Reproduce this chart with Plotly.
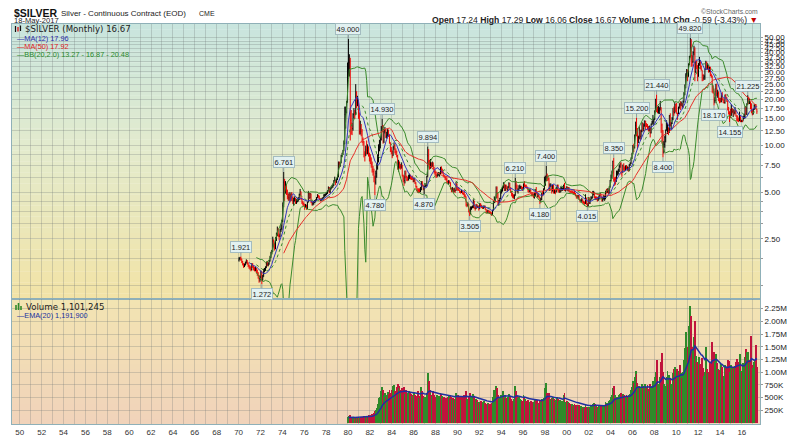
import math
import pandas as pd
import plotly.graph_objects as go
from plotly.subplots import make_subplots

# ---------------- data (monthly, Jan 1970 .. May 2017) ----------------
START_YEAR = 1970
first_open = 1.82

close = [
1.86,1.88,1.85,1.78,1.72,1.66,1.70,1.75,1.80,1.74,1.68,1.64,
1.62,1.58,1.70,1.66,1.62,1.58,1.60,1.55,1.50,1.45,1.38,1.39,
1.52,1.35,1.42,1.55,1.58,1.62,1.75,1.70,1.72,1.80,1.90,2.02,
2.08,2.42,2.30,2.18,2.48,2.66,2.88,2.62,2.60,2.86,2.92,3.28,
4.10,5.80,5.30,5.50,5.10,4.70,4.60,4.80,4.50,4.85,4.60,4.40,
4.45,4.55,4.28,4.40,4.50,4.52,4.82,5.05,4.55,4.30,4.22,4.18,
4.02,4.10,3.92,4.30,4.88,4.60,4.88,4.30,4.20,4.25,4.32,4.36,
4.42,4.60,4.76,4.70,4.55,4.42,4.48,4.50,4.62,4.78,4.80,4.84,
4.92,5.10,5.35,5.05,5.28,5.38,5.50,5.55,5.85,5.95,5.80,6.05,
6.30,7.60,7.45,7.70,8.55,8.70,9.30,10.30,15.90,16.50,19.00,28.00,
34.50,35.20,14.60,14.00,12.90,15.90,16.20,15.90,20.90,19.00,19.60,15.50,
12.30,12.80,12.40,11.00,10.60,8.80,8.60,9.40,9.30,9.60,8.80,8.30,
8.10,7.60,7.00,6.80,6.20,5.80,6.60,7.20,8.00,9.40,10.60,11.00,
13.00,13.50,10.70,12.50,12.70,11.50,11.70,12.50,11.70,10.50,9.40,9.20,
8.60,9.80,10.00,9.10,9.10,8.60,7.20,7.70,7.40,7.30,7.50,6.40,
6.10,5.95,6.60,6.30,6.05,6.05,6.30,6.40,6.20,6.15,6.15,5.90,
6.00,5.75,5.45,5.15,5.10,5.10,5.05,5.20,5.65,5.55,5.25,5.40,
5.50,5.50,6.30,8.60,7.90,7.20,7.70,7.40,7.60,7.40,6.80,6.70,
6.40,6.40,6.50,6.55,6.60,7.10,6.80,6.80,6.40,6.30,6.20,6.05,
5.85,5.80,5.85,5.75,5.30,5.20,5.25,5.10,5.15,5.10,5.60,5.25,
5.20,5.15,5.00,5.00,5.10,4.90,4.85,4.75,4.70,4.15,4.15,4.20,
3.75,3.65,3.95,3.95,4.05,4.40,4.00,3.90,4.10,4.00,4.05,3.90,
4.15,4.10,4.00,3.98,4.00,4.05,3.90,3.75,3.70,3.78,3.72,3.70,
3.68,3.60,3.80,4.30,4.50,4.60,5.30,4.90,4.20,4.40,4.55,5.10,
5.10,5.35,5.65,5.15,5.50,5.30,5.20,5.40,5.70,5.20,5.05,4.90,
4.75,4.70,4.75,5.50,5.40,5.10,5.20,5.40,5.40,5.40,5.30,5.20,
5.60,5.50,5.50,5.40,5.30,5.10,5.05,5.15,4.95,4.85,4.80,4.75,
4.85,5.15,5.00,4.70,4.75,4.65,4.35,4.50,4.85,4.80,5.20,5.95,
6.00,6.40,6.30,6.10,5.20,5.50,5.50,5.10,5.50,5.00,5.05,5.00,
5.20,5.50,5.10,5.10,5.20,5.30,5.30,5.30,5.50,5.15,5.25,5.40,
5.25,5.30,5.10,5.05,5.00,5.00,4.95,4.95,4.90,4.80,4.70,4.65,
4.75,4.50,4.35,4.40,4.45,4.30,4.30,4.25,4.60,4.20,4.10,4.60,
4.25,4.45,4.60,4.60,4.80,4.95,4.65,4.55,4.55,4.45,4.55,4.80,
4.85,4.60,4.45,4.50,4.55,4.55,5.10,5.05,5.15,4.95,5.40,5.95,
6.25,6.70,7.90,6.05,6.05,5.90,6.55,6.75,6.95,7.30,7.60,6.80,
6.75,7.40,7.15,6.90,7.40,7.10,7.20,6.85,7.50,7.70,8.35,8.85,
9.80,9.70,11.70,13.50,12.50,10.80,11.30,12.60,11.50,12.40,13.90,12.90,
13.40,14.30,13.40,13.40,13.20,12.40,12.90,12.10,13.80,14.20,14.40,14.80,
16.80,19.90,17.20,16.70,16.90,17.50,17.60,13.60,12.50,9.70,10.20,11.30,
12.60,13.10,13.10,12.50,15.60,13.60,13.90,14.90,16.60,16.30,18.40,16.90,
16.20,16.20,17.50,18.60,18.40,18.70,18.00,19.20,21.70,24.40,28.20,30.90,
27.90,33.80,37.90,48.60,38.30,34.80,40.00,41.60,30.20,34.80,32.70,28.20,
33.10,34.60,32.50,31.20,28.40,27.40,27.90,31.10,34.60,32.30,32.70,30.00,
31.90,28.40,28.20,24.00,22.30,19.50,19.70,23.40,21.60,21.80,19.50,19.40,
19.20,21.30,19.80,19.00,19.00,21.00,20.40,19.40,17.10,16.20,15.60,15.60,
17.20,16.60,17.00,16.30,16.80,15.60,14.70,14.60,14.50,15.50,14.30,14.40,
14.30,15.00,15.40,17.90,16.00,18.60,20.10,18.70,19.20,17.70,16.50,16.00,
17.10,18.30,18.30,17.24,16.67,
]

high = [
1.90,1.91,1.921,1.86,1.80,1.74,1.73,1.78,1.84,1.82,1.76,1.70,
1.68,1.66,1.74,1.74,1.68,1.64,1.64,1.62,1.58,1.52,1.46,1.44,
1.56,1.54,1.46,1.60,1.62,1.66,1.78,1.80,1.76,1.82,1.94,2.06,
2.12,2.58,2.48,2.36,2.56,2.74,3.00,2.92,2.70,2.90,3.08,3.32,
4.30,6.761,6.10,5.90,5.60,5.20,4.90,5.00,4.90,5.00,5.00,4.70,
4.60,4.70,4.60,4.50,4.60,4.65,4.90,5.25,5.05,4.60,4.40,4.30,
4.20,4.20,4.15,4.35,5.10,4.95,4.95,4.90,4.35,4.35,4.40,4.45,
4.50,4.65,4.86,4.82,4.75,4.58,4.55,4.60,4.65,4.85,4.88,4.92,
5.00,5.15,5.45,5.40,5.35,5.48,5.58,5.70,6.00,6.30,6.00,6.15,
6.50,7.90,7.90,7.85,8.70,9.00,9.40,10.80,17.90,17.90,19.50,34.50,
49.00,39.00,37.00,17.00,14.00,16.20,17.50,17.00,25.00,22.50,21.00,19.80,
16.40,14.50,13.80,12.80,11.30,10.70,9.20,10.00,10.80,10.20,9.90,9.00,
8.80,8.40,7.90,7.40,7.10,6.40,6.90,7.60,8.80,10.20,10.90,11.50,
13.40,14.93,13.60,12.80,13.20,12.80,12.30,12.80,12.70,11.80,10.50,9.80,
9.30,9.90,10.50,10.20,9.60,9.30,8.70,8.10,7.90,7.60,7.80,7.50,
6.50,6.40,6.90,6.90,6.40,6.30,6.50,6.60,6.50,6.30,6.40,6.20,
6.20,6.05,5.80,5.50,5.30,5.30,5.30,5.40,5.90,5.90,5.60,5.50,
5.70,5.60,6.40,9.894,9.50,8.10,8.20,7.80,7.90,7.80,7.30,7.00,
6.80,6.60,6.70,6.75,6.70,7.30,7.35,7.10,6.80,6.50,6.40,6.30,
6.20,5.95,6.00,5.95,5.80,5.35,5.40,5.30,5.35,5.20,5.85,5.70,
5.40,5.40,5.20,5.10,5.20,5.10,5.00,5.15,4.85,4.70,4.30,4.30,
4.20,3.85,4.05,4.05,4.10,4.50,4.40,4.00,4.20,4.20,4.10,4.10,
4.25,4.25,4.15,4.05,4.10,4.10,4.10,3.90,3.85,3.85,3.82,3.80,
3.75,3.70,3.85,4.40,4.70,4.65,5.45,5.45,4.95,4.45,4.60,5.20,
5.25,5.40,5.80,5.65,5.60,5.60,5.50,5.45,5.80,5.75,5.40,5.10,
4.95,4.85,4.85,6.21,5.90,5.60,5.30,5.55,5.60,5.50,5.50,5.40,
5.70,5.90,5.60,5.60,5.45,5.35,5.20,5.25,5.20,5.00,5.00,4.90,
4.95,5.25,5.40,5.00,4.90,4.80,4.65,4.60,4.95,5.10,5.30,6.30,
6.40,7.40,6.60,6.40,6.20,5.70,5.70,5.50,5.60,5.60,5.25,5.15,
5.40,5.60,5.60,5.25,5.30,5.45,5.40,5.35,5.60,5.75,5.30,5.45,
5.45,5.40,5.40,5.15,5.10,5.15,5.10,5.05,5.10,4.95,4.80,4.80,
4.80,4.80,4.50,4.50,4.60,4.50,4.40,4.35,4.85,4.60,4.25,4.65,
4.65,4.50,4.70,4.70,5.10,5.10,5.00,4.70,4.70,4.65,4.70,4.85,
4.95,4.90,4.70,4.65,4.80,4.75,5.10,5.25,5.30,5.30,5.45,6.00,
6.50,6.90,8.00,8.35,6.25,6.30,6.90,6.90,7.10,7.55,7.80,7.80,
6.85,7.55,7.70,7.35,7.45,7.50,7.35,7.30,7.60,7.80,8.40,9.00,
10.10,10.30,11.80,14.30,15.20,13.00,11.60,13.30,12.60,12.70,14.20,14.00,
13.90,14.60,14.50,14.00,13.80,13.40,13.50,13.20,13.90,14.50,15.80,15.00,
16.90,20.10,21.44,17.90,18.10,17.70,19.50,17.70,13.90,12.60,10.70,11.60,
12.70,14.60,14.00,13.10,15.80,16.20,14.20,15.30,17.50,17.90,19.20,18.60,
18.90,16.30,17.90,18.80,19.40,19.30,18.80,19.60,22.20,24.90,29.40,31.30,
31.00,34.00,38.00,49.82,48.70,38.30,40.80,44.30,43.20,35.30,35.50,33.20,
34.20,37.50,35.40,33.00,30.80,29.10,28.70,31.30,35.40,34.90,34.10,33.20,
32.40,32.40,29.20,28.40,24.60,23.40,20.60,25.10,25.20,23.00,22.40,20.40,
20.40,21.90,22.20,20.30,19.80,21.40,21.60,20.60,19.60,17.80,16.70,17.30,
18.50,17.50,17.20,16.90,17.80,16.90,15.70,15.70,15.20,16.60,15.50,14.70,
14.70,15.60,16.10,18.00,18.00,18.80,21.225,20.70,20.10,19.30,18.80,17.00,
17.30,18.50,18.60,18.60,17.29,
]

low = [
1.78,1.82,1.80,1.74,1.68,1.62,1.64,1.68,1.73,1.70,1.64,1.60,
1.58,1.54,1.56,1.62,1.56,1.54,1.54,1.50,1.44,1.38,1.30,1.32,
1.36,1.272,1.34,1.42,1.52,1.55,1.62,1.66,1.66,1.70,1.78,1.88,
1.98,2.06,2.20,2.10,2.14,2.42,2.60,2.56,2.44,2.56,2.76,2.84,
3.20,4.00,4.40,4.90,4.80,4.50,4.40,4.40,4.30,4.40,4.40,4.20,
4.10,4.35,4.20,4.20,4.30,4.35,4.45,4.75,4.45,4.20,4.10,4.05,
3.85,3.95,3.85,3.90,4.30,4.50,4.55,4.25,4.10,4.10,4.15,4.25,
4.30,4.40,4.58,4.60,4.45,4.35,4.38,4.42,4.48,4.58,4.65,4.72,
4.80,4.88,5.05,4.92,4.95,5.20,5.30,5.35,5.50,5.80,5.55,5.75,
6.00,6.25,7.20,7.30,7.70,8.45,8.70,9.20,10.20,12.90,16.20,19.00,
28.00,28.00,10.80,11.80,11.70,12.50,15.00,14.90,15.80,17.50,18.00,14.90,
11.80,11.80,11.50,10.40,10.00,8.40,7.90,8.60,8.80,8.80,8.50,7.90,
7.60,7.20,6.70,6.40,5.80,4.78,5.60,6.20,7.00,7.80,9.20,9.60,
10.80,12.30,10.30,10.40,12.00,11.20,11.10,11.40,11.40,10.30,9.10,8.80,
8.30,8.60,9.40,8.90,8.70,8.40,7.00,6.80,7.10,7.00,7.10,6.30,
5.80,5.50,5.70,6.15,5.90,5.90,5.95,6.10,6.05,6.00,6.00,5.80,
5.80,5.65,5.35,5.05,4.95,4.95,4.95,5.00,5.15,5.45,5.15,4.87,
5.40,5.40,5.50,6.30,7.40,7.00,7.10,7.20,7.30,7.00,6.60,6.40,
6.20,6.20,6.30,6.40,6.30,6.50,6.60,6.60,6.30,6.20,6.00,5.95,
5.70,5.70,5.60,5.70,5.20,5.00,5.05,4.95,5.00,4.95,5.10,5.15,
5.10,5.10,4.95,4.90,4.95,4.85,4.80,4.65,4.60,4.05,4.00,4.05,
3.70,3.505,3.60,3.85,3.95,3.95,3.90,3.80,3.90,3.95,3.95,3.80,
3.90,4.00,3.95,3.90,3.90,3.95,3.85,3.65,3.65,3.65,3.64,3.64,
3.60,3.52,3.55,3.80,4.25,4.30,4.55,4.60,4.10,4.15,4.30,4.50,
4.90,5.05,5.30,5.10,5.10,5.25,5.10,5.10,5.35,5.15,4.95,4.70,
4.60,4.55,4.50,4.75,5.20,5.00,4.90,5.10,5.25,5.25,5.20,5.10,
5.15,5.40,5.35,5.30,5.25,5.00,4.95,5.00,4.90,4.70,4.70,4.60,
4.55,4.70,4.85,4.60,4.65,4.55,4.18,4.30,4.45,4.70,4.80,5.20,
5.50,5.90,5.90,5.95,5.10,5.10,5.40,4.90,5.05,4.90,4.90,4.85,
5.00,5.15,5.00,4.95,4.95,5.00,5.10,5.10,5.20,5.10,5.05,5.15,
5.10,5.05,5.05,4.95,4.95,4.95,4.90,4.85,4.85,4.70,4.55,4.55,
4.55,4.45,4.30,4.30,4.35,4.25,4.20,4.15,4.20,4.15,4.015,4.05,
4.20,4.20,4.45,4.50,4.60,4.80,4.55,4.45,4.45,4.35,4.40,4.50,
4.70,4.55,4.35,4.35,4.50,4.40,4.50,4.90,4.95,4.85,4.90,5.35,
5.90,6.10,6.60,5.85,5.50,5.60,5.85,6.40,6.50,6.75,7.20,6.50,
6.30,6.70,6.90,6.85,6.90,7.05,6.90,6.80,6.85,7.40,7.60,8.20,
8.80,9.10,9.60,11.50,11.50,9.50,10.40,11.00,10.80,11.00,12.20,12.40,
12.40,13.30,12.60,13.20,12.70,12.40,12.40,11.30,12.00,13.60,13.80,13.60,
14.70,16.40,16.50,16.20,16.10,16.00,16.90,12.10,10.30,8.40,8.90,9.70,
10.50,12.50,11.90,11.70,12.10,13.30,12.60,13.80,14.60,15.60,16.20,16.50,
16.10,14.70,16.00,17.40,17.00,18.00,17.40,17.60,19.00,21.20,23.50,27.20,
26.10,27.90,33.10,37.20,32.40,32.50,34.30,38.40,26.10,29.50,31.30,26.10,
27.90,32.90,31.20,30.50,26.10,26.20,26.60,26.70,30.80,31.00,31.10,29.70,
29.90,28.10,27.50,22.00,21.70,18.17,18.80,19.40,20.90,20.40,19.40,18.80,
19.00,19.10,19.60,18.90,18.70,18.70,20.10,19.20,16.90,15.90,14.155,15.10,
15.60,16.20,15.30,15.70,16.00,15.40,14.40,14.30,14.20,14.40,14.20,14.20,
14.20,14.50,14.90,15.00,15.80,15.80,18.40,18.60,18.60,17.20,16.20,15.70,
15.90,17.00,17.20,17.20,16.06,
]

# monthly volume in thousands of contracts, Jan 1980 .. May 2017
VOLUME_START_YEAR = 1980
volume_k = [
110,130,150,120,100,90,100,95,120,110,100,95,
100,95,110,120,105,130,140,125,130,120,135,150,
150,160,170,180,200,230,260,300,380,440,500,520,
620,700,650,560,600,520,560,610,580,650,600,560,
640,720,750,620,580,700,760,680,720,650,600,680,
620,700,580,640,560,600,620,540,600,580,540,560,
600,560,520,540,620,500,540,560,700,620,540,500,
520,480,600,980,820,640,600,560,540,620,560,500,
520,560,480,540,500,600,580,540,500,520,480,500,
480,520,540,500,560,520,480,500,460,480,600,520,
560,480,520,460,500,540,480,560,520,620,480,440,
520,600,540,460,440,580,520,440,480,460,420,400,
420,440,400,380,420,440,400,380,360,400,380,360,
380,400,420,520,640,560,720,680,560,480,500,560,
560,600,620,540,560,500,480,520,580,520,480,440,
440,460,480,720,620,540,500,520,480,460,440,420,
560,520,480,440,420,460,400,420,440,400,420,380,
420,480,440,460,380,400,460,420,480,440,500,640,
680,780,600,520,600,480,460,500,520,480,440,420,
460,520,480,440,460,420,440,400,560,600,420,400,
440,420,400,380,360,380,340,360,380,360,340,360,
340,360,320,340,320,300,320,300,380,320,300,320,
300,320,340,320,380,400,380,320,340,320,300,340,
320,340,320,340,360,340,420,380,400,380,440,460,
520,560,680,720,560,500,520,480,520,560,580,600,
520,580,560,540,520,560,500,520,560,580,640,700,
820,780,900,1020,960,780,680,720,700,680,760,700,
720,760,680,700,740,660,620,760,700,720,820,700,
900,1000,1240,880,760,720,900,1200,1380,1000,760,720,
700,900,1020,760,940,880,760,700,980,1060,1100,880,
1060,900,960,1020,1140,980,880,1000,1240,1480,1800,1300,
1500,1600,1900,2300,2100,1500,1440,1700,2000,1320,1200,1160,
1100,1300,1160,1020,1280,1080,920,1000,1500,1060,980,1000,
1120,1200,1060,1600,1280,1400,1200,1360,1180,1060,1040,960,
900,1160,1100,860,920,1140,1080,900,1240,1060,1220,1000,
1140,1060,1080,1100,1120,1200,1260,1200,1120,1360,1140,1020,
1000,1180,1080,1300,1460,1400,1400,1240,1180,1280,1720,1140,
1080,1200,1240,1540,1101,
]

# labelled swing highs / lows: (year, month, kind)
swing_points = [
    (1970, 3, "H"), (1972, 2, "L"), (1974, 2, "H"), (1980, 1, "H"),
    (1982, 6, "L"), (1983, 2, "H"), (1986, 12, "L"), (1987, 4, "H"),
    (1991, 2, "L"), (1995, 4, "H"), (1997, 7, "L"), (1998, 2, "H"),
    (2001, 11, "L"), (2004, 4, "H"), (2006, 5, "H"), (2008, 3, "H"),
    (2008, 10, "L"), (2011, 4, "H"), (2013, 6, "L"), (2014, 11, "L"),
    (2016, 7, "H"),
]

x_label_text = ["50","52","54","56","58","60","62","64","66","68","70","72",
                "74","76","78","80","82","84","86","88","90","92","94","96",
                "98","00","02","04","06","08","10","12","14","16"]

price_tick_vals = [1.25,1.875,2.5,3.125,3.75,4.375,5,6.25,7.5,8.75,10,12.5,15,
                   17.5,20,22.5,25,27.5,30,32.5,35,37.5,40,42.5,45,47.5,50]
price_tick_text = ["","","2.50","","","","5.00","","7.50","","10.00","12.50",
                   "15.00","17.50","20.00","22.50","25.00","27.50","30.00",
                   "32.50","35.00","37.50","40.00","42.50","45.00","47.50","50.00"]

vol_tick_vals = [250000,500000,750000,1000000,1250000,1500000,1750000,2000000,2250000]
vol_tick_text = ["250K","500K","750K","1.00M","1.25M","1.50M","1.75M","2.00M","2.25M"]

assert len(close) == len(high) == len(low)
# ---------------- derived series ----------------
n = len(close)
xs = [START_YEAR + (i + 0.5) / 12 for i in range(n)]
opens = [first_open] + close[:-1]

s = pd.Series(close)
ma12 = s.rolling(12).mean()
ma50 = s.rolling(50).mean()
bb_mid = s.rolling(20).mean()
bb_sd = s.rolling(20).std(ddof=0)
bb_up = bb_mid + 2 * bb_sd
bb_lo = (bb_mid - 2 * bb_sd).clip(lower=0.3)

voff = (VOLUME_START_YEAR - START_YEAR) * 12
vol = [v * 1000 for v in volume_k]
xv = xs[voff:voff + len(vol)]
vcol = []
for k in range(len(vol)):
    i = voff + k
    vcol.append("#2f8a2a" if close[i] >= close[i - 1] else "#c0143c")
ema20 = pd.Series(vol).ewm(span=20, adjust=False).mean()

# ---------------- figure ----------------
fig = make_subplots(rows=2, cols=1, shared_xaxes=True, vertical_spacing=0,
                    row_heights=[0.6875, 0.3125])

GREEN = "#3a8a2c"
fig.add_trace(go.Ohlc(x=xs, open=opens, high=high, low=low, close=close,
                      increasing=dict(line=dict(color="black", width=1)),
                      decreasing=dict(line=dict(color="#ee0000", width=1)),
                      tickwidth=0.4, hoverinfo="skip", showlegend=False), row=1, col=1)
fig.add_trace(go.Scatter(x=xs, y=bb_up, mode="lines", line=dict(color=GREEN, width=1),
                         hoverinfo="skip"), row=1, col=1)
fig.add_trace(go.Scatter(x=xs, y=bb_lo, mode="lines", line=dict(color=GREEN, width=1),
                         hoverinfo="skip"), row=1, col=1)
fig.add_trace(go.Scatter(x=xs, y=bb_mid, mode="lines",
                         line=dict(color=GREEN, width=1, dash="dot"), hoverinfo="skip"),
              row=1, col=1)
fig.add_trace(go.Scatter(x=xs, y=ma50, mode="lines", line=dict(color="#e8302a", width=1),
                         hoverinfo="skip"), row=1, col=1)
fig.add_trace(go.Scatter(x=xs, y=ma12, mode="lines", line=dict(color="#3535c0", width=1),
                         hoverinfo="skip"), row=1, col=1)

fig.add_trace(go.Bar(x=xv, y=vol, marker=dict(color=vcol, line=dict(width=0)),
                     width=1 / 12, hoverinfo="skip"), row=2, col=1)
fig.add_trace(go.Scatter(x=xv, y=ema20, mode="lines", line=dict(color="#2030a0", width=1.5),
                         hoverinfo="skip"), row=2, col=1)

# ---------------- layout ----------------
# the page body adds an 8px offset, so the figure is laid out 8px up/left
OFF = 8
W, H = 800, 439
PW, PH = 748, 400
L, T = 12 - OFF, 24 - OFF
R, B = W - L - PW, H - T - PH


def P(px, py):
    """reference-picture pixel -> paper coordinates"""
    return (px - OFF - L) / PW, (T + PH - (py - OFF)) / PH


GRID = "rgba(110,120,120,0.28)"
BORDER = "#8fb0b8"

years = list(range(1950, 2018))
ticktext = []
li = 0
for y in years:
    if y % 2 == 0 and li < len(x_label_text):
        ticktext.append(x_label_text[li]); li += 1
    else:
        ticktext.append("")

fig.update_xaxes(range=[1949.29, 2017.66], tickmode="array", tickvals=years,
                 ticktext=ticktext, showgrid=True, gridcolor=GRID, gridwidth=1,
                 showline=True, linecolor=BORDER, mirror=True, zeroline=False,
                 ticks="", rangeslider=dict(visible=False), automargin=False,
                 tickfont=dict(size=8, color="#333"))
fig.update_xaxes(showticklabels=False, row=1, col=1)

fig.update_yaxes(type="log", range=[math.log10(1.02), math.log10(61.2)], side="right",
                 tickmode="array", tickvals=price_tick_vals, ticktext=price_tick_text,
                 showgrid=True, gridcolor=GRID, showline=True, linecolor=BORDER,
                 mirror=True, ticks="outside", ticklen=2, tickcolor="#999",
                 automargin=False,
                 tickfont=dict(size=8, color="#222"), zeroline=False, row=1, col=1)
fig.update_yaxes(range=[-20000, 2440000], side="right", tickmode="array",
                 tickvals=vol_tick_vals, ticktext=vol_tick_text, showgrid=True,
                 gridcolor=GRID, showline=True, linecolor=BORDER, mirror=True,
                 ticks="outside", ticklen=2, tickcolor="#999", automargin=False,
                 tickfont=dict(size=8, color="#222"), zeroline=False, row=2, col=1)

shapes = []


def mix(c1, c2, t):
    return "rgb(%d,%d,%d)" % tuple(round(a + (b - a) * t) for a, b in zip(c1, c2))


def gradient(y_top, y_bot, stops, nb):
    for k in range(nb):
        t = (k + 0.5) / nb
        for j in range(len(stops) - 1):
            if stops[j][0] <= t <= stops[j + 1][0]:
                u = (t - stops[j][0]) / (stops[j + 1][0] - stops[j][0])
                col = mix(stops[j][1], stops[j + 1][1], u)
                break
        y0 = y_top + (y_bot - y_top) * k / nb
        y1 = y_top + (y_bot - y_top) * (k + 1) / nb
        shapes.append(dict(type="rect", xref="paper", yref="paper", x0=0, x1=1,
                           y0=y0, y1=y1 - 0.0005, fillcolor=col, line=dict(width=0),
                           layer="below"))


gradient(1.0, 0.3125, [(0, (200, 229, 222)), (0.45, (227, 235, 205)), (1, (242, 227, 166))], 50)
gradient(0.3125, 0.0, [(0, (242, 228, 178)), (1, (241, 211, 186))], 25)


def seg(x0, y0, x1, y1, color, w=1.2):
    a = P(x0, y0); b = P(x1, y1)
    shapes.append(dict(type="line", xref="paper", yref="paper", x0=a[0], y0=a[1],
                       x1=b[0], y1=b[1], line=dict(color=color, width=w)))


# legend icons
seg(15.5, 26, 15.5, 32, "#111"); seg(18, 27, 18, 31.5, "#dd0000"); seg(20.5, 25.5, 20.5, 31, "#111")
seg(16, 310, 16, 305, "#2f8a2a", 1.6); seg(18.5, 310, 18.5, 303, "#2f8a2a", 1.6); seg(21, 310, 21, 306, "#2f8a2a", 1.6)

fig.update_layout(shapes=shapes)

ann = []


def txt(px, py, text, size=8, color="#222", family="Liberation Sans, Arial, sans-serif",
        xanchor="left"):
    xp, yp = P(px, py)
    ann.append(dict(x=xp, y=yp, xref="paper", yref="paper", text=text, showarrow=False,
                    xanchor=xanchor, yanchor="middle",
                    font=dict(size=size, color=color, family=family)))


txt(12, 12.8, "<b>$SILVER</b>", size=10.5, color="#111")
txt(59, 13.3, "Silver - Continuous Contract (EOD)", size=8, color="#222")
txt(197, 13.3, "CME", size=7, color="#222")
txt(12, 20.2, "18-May-2017", size=7.6, color="#222")
txt(760, 11.3, "©StockCharts.com", size=6.8, color="#666", xanchor="right")
txt(760, 19.8, "<b>Open</b> 17.24 <b>High</b> 17.29 <b>Low</b> 16.06 <b>Close</b> 16.67 "
               "<b>Volume</b> 1.1M <b>Chg</b> -0.59 (-3.43%) <span style='color:#c00000'>▼</span>",
    size=8.6, color="#222", xanchor="right")

txt(23, 29, "$SILVER (Monthly) 16.67", size=8.6, color="#222", family="DejaVu Sans, sans-serif")
txt(15, 38, "—MA(12) 17.96", size=7.3, color="#2a2aa8")
txt(15, 46.2, "—MA(50) 17.92", size=7.3, color="#e02020")
txt(15, 54.5, "—BB(20,2.0) 13.27 - 16.87 - 20.48", size=7.3, color="#2a8a2a")

txt(24, 306.5, "Volume 1,101,245", size=8.6, color="#222", family="DejaVu Sans, sans-serif")
txt(15, 315.5, "—EMA(20) 1,191,900", size=7.3, color="#2030a0")

fig.update_layout(annotations=ann)

for (yy, mm, kind) in swing_points:
    i = (yy - START_YEAR) * 12 + (mm - 1)
    val = high[i] if kind == "H" else low[i]
    fig.add_annotation(x=xs[i], y=math.log10(val), xref="x", yref="y",
                       text=f"{val:.3f}", showarrow=True, arrowhead=0, arrowwidth=1,
                       arrowcolor="#8a9ca0", ax=0, ay=(-9.5 if kind == "H" else 9.5),
                       standoff=0, bgcolor="#e2f1f1", bordercolor="#a3bcc0",
                       borderwidth=1, borderpad=0.5,
                       font=dict(size=7.5, color="#222",
                                 family="Liberation Sans, Arial, sans-serif"))

fig.update_layout(width=W, height=H, margin=dict(l=L, r=R, t=T, b=B, autoexpand=False),
                  paper_bgcolor="white", plot_bgcolor="rgba(0,0,0,0)",
                  showlegend=False, bargap=0,
                  font=dict(family="Liberation Sans, Arial, sans-serif", size=8, color="#222"))

fig.write_html("out.html")
